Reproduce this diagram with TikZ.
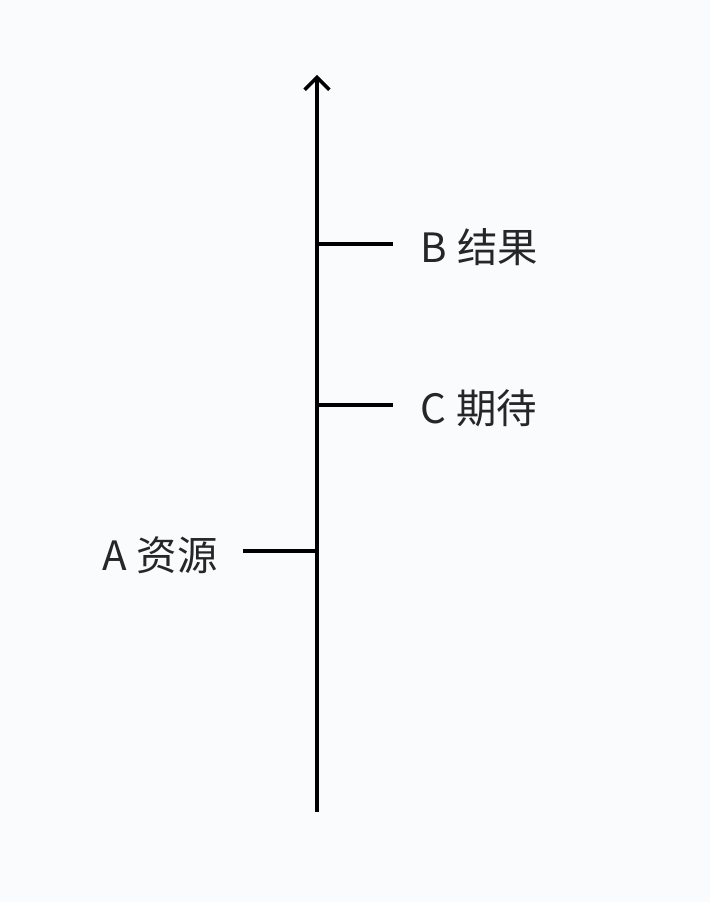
\documentclass[tikz,border=0pt]{standalone}
\usepackage{fontspec}
\setmainfont{Noto Sans CJK SC}
\usetikzlibrary{arrows.meta}
\definecolor{fondo}{RGB}{250,251,253}
\begin{document}
\begin{tikzpicture}[
    etiqueta/.style={inner sep=0pt, font=\fontsize{23}{23}\selectfont, text=black!85},
    marca/.style={black, line width=2pt}
  ]
            % Fondo
            \fill[fondo] (0,0) rectangle (14.2,18.04);
            \useasboundingbox (0,0) rectangle (14.2,18.04);

            % Eje
            \coordinate (base) at (6.34, 1.80);
            \coordinate (cima) at (6.34, 16.54);
            \draw[black, line width=2pt, -{Straight Barb[length=7pt, width=14pt, line width=2pt]}] (base) -- (cima);

            % Marcas
            \coordinate (pB) at (6.34, 13.16);
            \coordinate (pC) at (6.34, 9.94);
            \coordinate (pA) at (6.34, 7.02);
            \coordinate (fB) at (7.86, 13.16);
            \coordinate (fC) at (7.86, 9.94);
            \coordinate (fA) at (4.86, 7.02);
            \draw[marca] (pB) -- (fB);
            \draw[marca] (pC) -- (fC);
            \draw[marca] (fA) -- (pA);

            % Etiquetas
            \node[etiqueta, anchor=west] (B) at (8.40, 13.10) {B\hspace{0.25em}结果};
            \node[etiqueta, anchor=west] (C) at (8.40, 9.88) {C\hspace{0.25em}期待};
            \node[etiqueta, anchor=east] (A) at (4.36, 6.94) {A\hspace{0.25em}资源};
        \end{tikzpicture}
\end{document}
